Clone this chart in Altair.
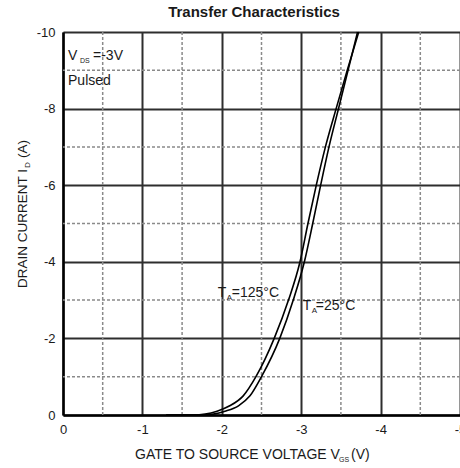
import altair as alt
import pandas as pd

FONT = "Liberation Sans"
INK = "#1a1a1a"

# ---- data ----
title_text = "Transfer Characteristics"
x_major = [0, -1, -2, -3, -4, -5]
x_minor = [-0.5, -1.5, -2.5, -3.5, -4.5]
y_major = [0, -2, -4, -6, -8, -10]
y_minor = [-1, -3, -5, -7, -9]

id_points = [0, 0, -0.1, -0.24, -0.5, -1, -2, -3, -4, -5, -6, -7, -8, -9, -10]
vgs_125 = [-1.3, -1.64, -1.94, -2.10, -2.27, -2.43, -2.66, -2.84, -2.985, -3.085, -3.19, -3.305, -3.44, -3.58, -3.725]
vgs_25 = [-1.3, -1.76, -2.04, -2.21, -2.355, -2.50, -2.73, -2.90, -3.04, -3.145, -3.245, -3.35, -3.47, -3.59, -3.71]
series_names = ["TA=125°C", "TA=25°C"]

rows = []
for name, vs in zip(series_names, [vgs_125, vgs_25]):
    for k, (v, i) in enumerate(zip(vs, id_points)):
        rows.append({"series": name, "vgs": v, "id": i, "k": k})
curves_df = pd.DataFrame(rows)

X = alt.X("vgs:Q",
          scale=alt.Scale(domain=[0, -5], nice=False, zero=False),
          axis=alt.Axis(values=x_major, grid=True, gridColor="#2e2e2e", gridWidth=2,
                        domainColor="#000", domainWidth=2.5, ticks=False,
                        labelPadding=8, labelFontSize=13, labelFont=FONT, labelColor=INK,
                        labelFlush=False, labelOverlap=False, title=None,
                        labelExpr="toString(datum.value)"))
Y = alt.Y("id:Q",
          scale=alt.Scale(domain=[0, -10], nice=False, zero=False),
          axis=alt.Axis(values=y_major, grid=True, gridColor="#2e2e2e", gridWidth=2,
                        domainColor="#000", domainWidth=2.5, ticks=False,
                        labelPadding=8, labelFontSize=13, labelFont=FONT, labelColor=INK,
                        labelFlush=False, labelOverlap=False, title=None,
                        labelExpr="toString(datum.value)"))

curves = alt.Chart(curves_df).mark_line(color="#000", strokeWidth=1.6, interpolate="monotone").encode(
    x=X, y=Y, detail="series:N", order="k:Q")

minor_x = alt.Chart(pd.DataFrame({"vgs": x_minor})).mark_rule(
    color="#8a8a8a", strokeWidth=1.5, strokeDash=[3, 2]).encode(x="vgs:Q")
minor_y = alt.Chart(pd.DataFrame({"id": y_minor})).mark_rule(
    color="#8a8a8a", strokeWidth=1.5, strokeDash=[3, 2]).encode(y="id:Q")


def dtxt(text, x, y, dx=0, dy=0, size=14):
    return alt.Chart(pd.DataFrame({"vgs": [x], "id": [y], "t": [text]})).mark_text(
        align="left", baseline="alphabetic", dx=dx, dy=dy, fontSize=size, font=FONT, color=INK
    ).encode(x="vgs:Q", y="id:Q", text="t:N")


def ptxt(text, px, py, size, angle=0, align="left", weight="normal"):
    return alt.Chart(pd.DataFrame({"t": [text]})).mark_text(
        align=align, baseline="alphabetic", fontSize=size, font=FONT, color=INK,
        angle=angle, fontWeight=weight
    ).encode(x=alt.value(px), y=alt.value(py), text="t:N")


annotations = [
    dtxt("T", -1.95, -3.08), dtxt("A", -1.95, -3.08, dx=9, dy=3, size=8), dtxt("=125°C", -1.95, -3.08, dx=14),
    dtxt("T", -3.02, -2.74), dtxt("A", -3.02, -2.74, dx=9, dy=3, size=8), dtxt("=25°C", -3.02, -2.74, dx=13),
    dtxt("V", -0.063, -9.27), dtxt("DS", -0.063, -9.27, dx=12, dy=3, size=7), dtxt("=-3V", -0.063, -9.27, dx=25),
    dtxt("Pulsed", -0.063, -8.616),
]

titles = [
    ptxt(title_text, 191, -15, 15, align="center", weight="bold"),
    ptxt("GATE TO SOURCE VOLTAGE V", 72, 427, 14),
    ptxt("GS", 276, 430, 7),
    ptxt("(V)", 288, 427, 14),
    ptxt("DRAIN CURRENT I", -36, 256, 13.5, angle=270),
    ptxt("D", -33, 136, 8, angle=270),
    ptxt("(A)", -36, 126, 13.5, angle=270),
]

chart = alt.layer(minor_x, minor_y, curves, *annotations, *titles).properties(
    width=397, height=383,
    autosize=alt.AutoSizeParams(type="none"),
    padding={"left": 63, "top": 32, "right": 0, "bottom": 53},
).configure_view(strokeWidth=0).configure(background="white")

chart.save("out.html", embed_options={"renderer": "svg", "actions": False})
